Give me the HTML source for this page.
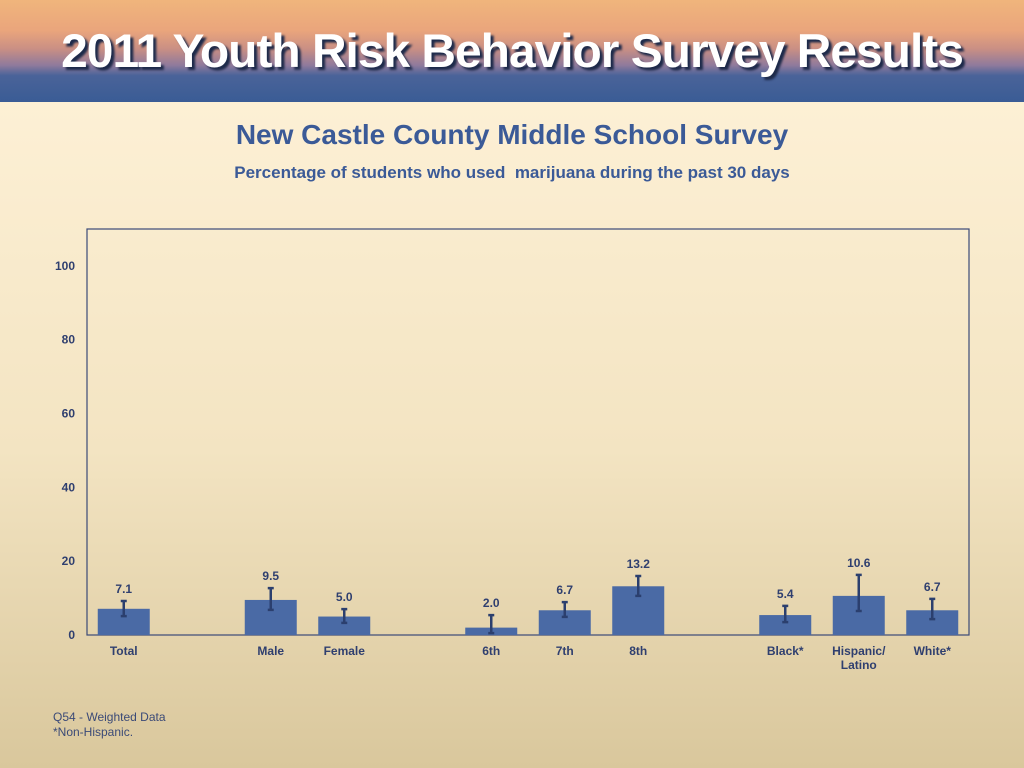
<!DOCTYPE html>
<html><head><meta charset="utf-8"><style>
body{margin:0;width:1024px;height:768px;overflow:hidden;font-family:"Liberation Sans",sans-serif;background:linear-gradient(#fdf0d5 100px,#f3e4c2 450px,#d9c79c 768px);position:relative}
.hdr{position:absolute;left:0;top:0;width:1024px;height:102px;background:linear-gradient(#f0b57c 0%,#eaa57c 30%,#c98f84 48%,#8f7a9c 64%,#4a6399 74%,#3a5c95 100%)}
.hdr h1{margin:0;position:absolute;left:0;width:1024px;top:23px;text-align:center;font-size:47px;font-weight:bold;color:#fff;letter-spacing:-1px;text-shadow:3px 3px 2px #1d2a4a;transform:scaleX(1.02)}
.t1{position:absolute;top:119px;width:1024px;text-align:center;font-size:28px;font-weight:bold;color:#3b5a97}
.t2{position:absolute;top:163px;width:1024px;text-align:center;font-size:17px;font-weight:bold;color:#3b5a97}
.ft{position:absolute;left:53px;top:710px;font-size:12px;color:#3b4a77;line-height:15px}
</style></head><body>
<div class="hdr"><h1>2011 Youth Risk Behavior Survey Results</h1></div>
<div class="t1">New Castle County Middle School Survey</div>
<div class="t2">Percentage of students who used &nbsp;marijuana during the past 30 days</div>
<svg id="c" width="1024" height="768" style="position:absolute;left:0;top:0"></svg>
<div class="ft">Q54 - Weighted Data<br>*Non-Hispanic.</div>
<script>
const categories=["Total","","Male","Female","","6th","7th","8th","","Black*","Hispanic/|Latino","White*"];
const values=[7.1,null,9.5,5.0,null,2.0,6.7,13.2,null,5.4,10.6,6.7];
const lower=[5.1,null,6.8,3.3,null,0.5,4.9,10.6,null,3.5,6.5,4.3];
const upper=[9.2,null,12.7,7.0,null,5.4,8.9,16.0,null,7.9,16.3,9.8];
const yTicks=[0,20,40,60,80,100];
const svg=document.getElementById('c'),NS="http://www.w3.org/2000/svg";
const L=87,R=969,T=229,B=635,YMAX=110;
const y=v=>B-v/YMAX*(B-T);
const slot=(R-L)/categories.length;
const x=i=>L+slot*(i+0.5);
function mk(t,a,txt){const e=document.createElementNS(NS,t);for(const k in a)e.setAttribute(k,a[k]);if(txt!=null)e.textContent=txt;svg.appendChild(e);return e;}
let f=mk('rect',{x:L,y:T,width:R-L,height:B-T,fill:'none',stroke:'#3b4a77','stroke-width':1.2});


yTicks.forEach(t=>{let e=mk('text',{x:75,y:y(t)+4,'text-anchor':'end','font-size':12,'font-weight':'bold',fill:'#2f3f6f'},t);

});
categories.forEach((c,i)=>{
 if(values[i]==null)return;
 const cx=x(i),w=52;
 let b=mk('rect',{x:cx-w/2,y:y(values[i]),width:w,height:B-y(values[i]),fill:'#4a6aa5'});
 
 
 let eb=mk('path',{d:`M${cx},${y(upper[i])}V${y(lower[i])}M${cx-3},${y(upper[i])}H${cx+3}M${cx-3},${y(lower[i])}H${cx+3}`,stroke:'#2b3f6e','stroke-width':2.5,fill:'none'});
 
 
 let v=mk('text',{x:cx,y:y(upper[i])-8,'text-anchor':'middle','font-size':12,'font-weight':'bold',fill:'#2f3f6f'},values[i].toFixed(1));
 
 
 c.split('|').forEach((p,j)=>{let l=mk('text',{x:cx,y:B+20+j*14,'text-anchor':'middle','font-size':12,'font-weight':'bold',fill:'#2f3f6f'},p);
 
 });
});
</script>
</body></html>
